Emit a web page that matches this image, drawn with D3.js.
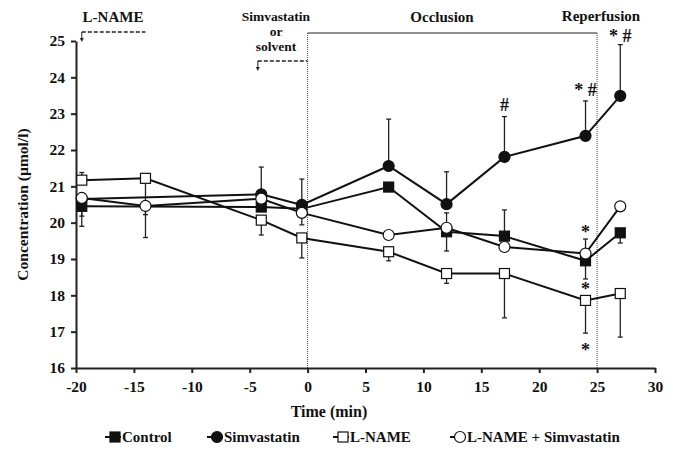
<!DOCTYPE html>
<html>
<head>
<meta charset="utf-8">
<script src="https://cdn.jsdelivr.net/npm/d3@7"></script>
<style>
  body { margin: 0; background: #fff; }
  svg text { font-family: "Liberation Serif", "Times New Roman", serif; font-weight: bold; fill: #111; }
</style>
</head>
<body>
<div id="chart"></div>
<script>
// Time points (min)
const timesCS = [-19.5, -4, -0.5, 7, 12, 17, 24, 27]
const timesLN = [-19.5, -14, -4, -0.5, 7, 12, 17, 24, 27]

// Concentration (µmol/l); error: + drawn up, - drawn down
const control = [20.45, 20.43, 20.38, 20.98, 19.75, 19.63, 18.95, 19.72]
const controlErr = [-0.55, 0, 0, 0, -0.53, 0.72, -0.5, -0.28]
const simvastatin = [20.65, 20.78, 20.49, 21.56, 20.51, 21.81, 22.39, 23.49]
const simvastatinErr = [0, 0.75, 0.71, 1.29, 0.89, 1.11, 0.96, 1.41]
const lname = [21.17, 21.22, 20.07, 19.58, 19.2, 18.6, 18.6, 17.86, 18.05]
const lnameErr = [0.21, -1.0, -0.41, -0.55, -0.25, -0.27, -1.22, -0.9, -1.2]
const lnameSim = [20.68, 20.46, 20.66, 20.27, 19.66, 19.86, 19.33, 19.15, 20.45]
const lnameSimErr = [-0.5, -0.87, 0, -0.33, 0, 0.41, 0, 0.4, 0]

const xTicks = [-20, -15, -10, -5, 0, 5, 10, 15, 20, 25, 30]
const yTicks = [16, 17, 18, 19, 20, 21, 22, 23, 24, 25]

// Significance marks (time, concentration at text baseline, text)
const marks = [
  { t: 17, v: 23.07, text: '#' },
  { t: 24, v: 23.49, text: '* #' },
  { t: 27, v: 24.97, text: '* #' },
  { t: 24, v: 19.59, text: '*' },
  { t: 24, v: 18.0, text: '*' },
  { t: 24, v: 16.34, text: '*' }
]

const series = [
  { name: 'Control', t: timesCS, v: control, e: controlErr, shape: 'square', fill: '#111' },
  { name: 'Simvastatin', t: timesCS, v: simvastatin, e: simvastatinErr, shape: 'circle', fill: '#111' },
  { name: 'L-NAME', t: timesLN, v: lname, e: lnameErr, shape: 'square', fill: '#fff' },
  { name: 'L-NAME + Simvastatin', t: timesLN, v: lnameSim, e: lnameSimErr, shape: 'circle', fill: '#fff' }
]

const width = 673
const height = 454

const svg = d3.select('#chart')
  .append('svg')
  .attr('width', width)
  .attr('height', height)

const x = d3.scaleLinear().domain([-20, 30]).range([76, 655])
const y = d3.scaleLinear().domain([16, 25]).range([368, 41])

// Phase frame: top line and dotted verticals at 0 and 25 min
const frameTop = 33
svg.append('line')
  .attr('x1', x(0)).attr('x2', x(25))
  .attr('y1', frameTop).attr('y2', frameTop)
  .attr('stroke', '#222').attr('stroke-width', 1)
;[0, 25].forEach(t => {
  svg.append('line')
    .attr('x1', x(t)).attr('x2', x(t))
    .attr('y1', frameTop).attr('y2', y(16))
    .attr('stroke', '#444').attr('stroke-width', 1)
    .attr('stroke-dasharray', '1,1')
})

// Axes
const yAxis = svg.append('g')
  .attr('transform', `translate(${x(-20)},0)`)
  .call(d3.axisLeft(y).tickValues(yTicks).tickFormat(d => String(d))
    .tickSize(5).tickSizeOuter(0).tickPadding(6))
const xAxis = svg.append('g')
  .attr('transform', `translate(0,${y(16)})`)
  .call(d3.axisBottom(x).tickValues(xTicks).tickFormat(d => String(d))
    .tickSize(5).tickSizeOuter(0).tickPadding(8))

;[xAxis, yAxis].forEach(ax => {
  ax.select('.domain').attr('stroke', '#222').attr('stroke-width', 2)
  ax.selectAll('.tick line').attr('stroke', '#222').attr('stroke-width', 2)
  ax.selectAll('.tick text')
    .attr('font-size', '15.5px')
    .attr('fill', '#111')
    .style('font-family', '"Liberation Serif", serif')
    .style('font-weight', 'bold')
})

// Axis titles
svg.append('text')
  .attr('x', 329)
  .attr('y', 417)
  .attr('text-anchor', 'middle')
  .attr('font-size', '16px')
  .text('Time (min)')

svg.append('text')
  .attr('transform', `translate(28,${y(20.5)}) rotate(-90)`)
  .attr('text-anchor', 'middle')
  .attr('font-size', '15.5px')
  .text('Concentration (\u00b5mol/l)')

// Treatment annotations
svg.append('text').attr('x', 113).attr('y', 22).attr('text-anchor', 'middle').attr('font-size', '15px').text('L-NAME')
;[['Simvastatin', 21], ['or', 36], ['solvent', 51]].forEach(([s, yy]) => {
  svg.append('text')
    .attr('x', 276).attr('y', yy)
    .attr('text-anchor', 'middle')
    .attr('font-size', '13.5px')
    .text(s)
})
svg.append('text').attr('x', 442).attr('y', 22).attr('text-anchor', 'middle').attr('font-size', '15px').text('Occlusion')
svg.append('text').attr('x', 601).attr('y', 21).attr('text-anchor', 'middle').attr('font-size', '15px').text('Reperfusion')

// Dashed brackets with arrows
function bracket(xStart, xEnd, yLine) {
  svg.append('line')
    .attr('x1', xStart).attr('x2', xEnd)
    .attr('y1', yLine).attr('y2', yLine)
    .attr('stroke', '#222').attr('stroke-width', 1.5)
    .attr('stroke-dasharray', '4,2')
  svg.append('line')
    .attr('x1', xStart).attr('x2', xStart)
    .attr('y1', yLine).attr('y2', yLine + 7)
    .attr('stroke', '#222').attr('stroke-width', 1)
  svg.append('path')
    .attr('d', `M${xStart - 2},${yLine + 6} L${xStart + 2},${yLine + 6} L${xStart},${yLine + 10} Z`)
    .attr('fill', '#222')
}
bracket(x(-19.5), x(-14), 32)
bracket(x(-4.3), x(0), 61)

// Symbols
function drawSymbol(g, shape, cx, cy, fill) {
  if (shape === 'square') {
    g.append('rect')
      .attr('x', cx - 5).attr('y', cy - 5)
      .attr('width', 10).attr('height', 10)
      .attr('fill', fill).attr('stroke', '#111').attr('stroke-width', 1.2)
  } else {
    g.append('circle')
      .attr('cx', cx).attr('cy', cy).attr('r', 5.5)
      .attr('fill', fill).attr('stroke', '#111').attr('stroke-width', 1.2)
  }
}

const line = d3.line()
  .x(d => x(d.t))
  .y(d => y(d.v))

// Error bars first (behind everything)
series.forEach(s => {
  const g = svg.append('g')
  s.t.forEach((t, i) => {
    const err = s.e[i]
    if (!err) return
    const y0 = y(s.v[i])
    const y1 = y(s.v[i] + err)
    g.append('line')
      .attr('x1', x(t)).attr('x2', x(t))
      .attr('y1', y0).attr('y2', y1)
      .attr('stroke', '#222').attr('stroke-width', 1.3)
    g.append('line')
      .attr('x1', x(t) - 2.5).attr('x2', x(t) + 2.5)
      .attr('y1', y1).attr('y2', y1)
      .attr('stroke', '#222').attr('stroke-width', 1.3)
  })
})

series.forEach(s => {
  const pts = s.t.map((t, i) => ({ t, v: s.v[i] }))
  svg.append('path')
    .datum(pts)
    .attr('d', line)
    .attr('fill', 'none')
    .attr('stroke', '#111')
    .attr('stroke-width', 2)
})

series.forEach(s => {
  const g = svg.append('g')
  s.t.forEach((t, i) => drawSymbol(g, s.shape, x(t), y(s.v[i]), s.fill))
})

// Significance marks
marks.forEach(m => {
  svg.append('text')
    .attr('x', x(m.t))
    .attr('y', y(m.v))
    .attr('text-anchor', 'middle')
    .attr('font-size', '18px')
    .attr('xml:space', 'preserve')
    .text(m.text)
})

// Legend
const legendY = 437
const legendX = [105, 207, 333, 450]
series.forEach((s, i) => {
  const g = svg.append('g').attr('transform', `translate(${legendX[i]},${legendY})`)
  g.append('line')
    .attr('x1', 0).attr('x2', 16)
    .attr('y1', 0).attr('y2', 0)
    .attr('stroke', '#111').attr('stroke-width', 2)
  drawSymbol(g, s.shape, 10, 0, s.fill)
  g.append('text')
    .attr('x', 17)
    .attr('y', 5)
    .attr('font-size', '15px')
    .text(s.name)
})
</script>
</body>
</html>
